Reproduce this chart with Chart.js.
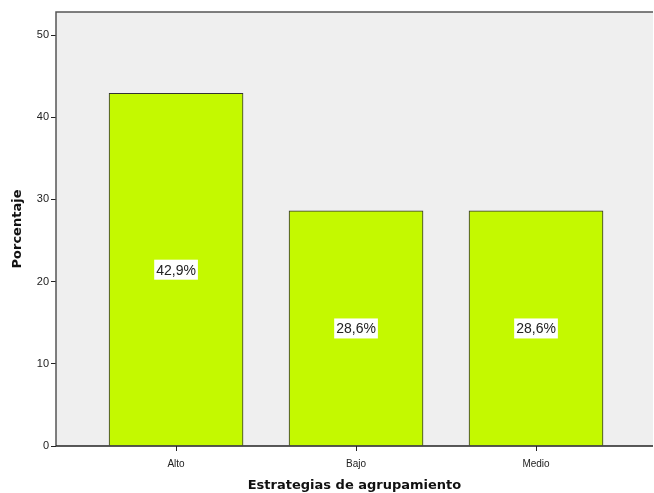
<!DOCTYPE html>
<html><head><meta charset="utf-8">
<script src="https://cdn.jsdelivr.net/npm/chart.js@4"></script>
<style>html,body{margin:0;padding:0;background:#fff}#w{width:654px;height:493px}</style>
</head><body><div id="w"><canvas id="c"></canvas></div>
<script>
const categories = ["Alto", "Bajo", "Medio"];
const percentages = [42.9, 28.6, 28.6];
const valueLabels = ["42,9%", "28,6%", "28,6%"];
const yTicks = [0, 10, 20, 30, 40, 50];

const bgPlugin = {
  id: 'bg',
  beforeDatasetsDraw(chart) {
    const {ctx, chartArea: a} = chart;
    ctx.save();
    ctx.fillStyle = '#efefef';
    ctx.fillRect(a.left, a.top, a.right - a.left, a.bottom - a.top);
    ctx.strokeStyle = '#555';
    ctx.lineWidth = 1.5;
    ctx.beginPath();
    ctx.moveTo(a.left, a.bottom); ctx.lineTo(a.left, a.top); ctx.lineTo(a.right, a.top);
    ctx.stroke();
    ctx.restore();
  },
  afterDatasetsDraw(chart) {
    const {ctx, chartArea: a} = chart;
    const meta = chart.getDatasetMeta(0);
    const xs = chart.scales.x;
    ctx.save();
    ctx.strokeStyle = '#222';
    ctx.lineWidth = 1.5;
    ctx.beginPath();
    ctx.moveTo(a.left, a.bottom); ctx.lineTo(a.right, a.bottom);
    ctx.stroke();
    ctx.lineWidth = 1;
    ctx.beginPath();
    categories.forEach((c, i) => {
      const px = Math.round(xs.getPixelForValue(i)) + 0.5;
      ctx.moveTo(px, a.bottom); ctx.lineTo(px, a.bottom + 5);
    });
    ctx.stroke();
    ctx.font = '14px "Liberation Sans", Arial, sans-serif';
    ctx.textAlign = 'center';
    ctx.textBaseline = 'middle';
    meta.data.forEach((el, i) => {
      const y = chart.scales.y.getPixelForValue(percentages[i] / 2);
      const t = valueLabels[i];
      const w = ctx.measureText(t).width + 4;
      ctx.fillStyle = '#fff';
      ctx.fillRect(el.x - w / 2, y - 10, w, 20);
      ctx.fillStyle = '#222';
      ctx.fillText(t, el.x, y + 1);
    });
    ctx.restore();
  }
};

new Chart(document.getElementById('c'), {
  type: 'bar',
  data: {
    datasets: [{
      data: categories.map((c, i) => ({x: i, y: percentages[i]})),
      backgroundColor: '#c4f900',
      borderColor: '#333',
      borderWidth: 1,
      barThickness: 134
    }]
  },
  options: {
    responsive: true,
    maintainAspectRatio: false,
    animation: false,
    layout: {padding: {top: 12, right: 1, left: 10, bottom: 0}},
    plugins: {legend: {display: false}, tooltip: {enabled: false}},
    scales: {
      x: {
        type: 'linear',
        offset: false,
        min: -0.667, max: 2.65,
        afterBuildTicks(s) { s.ticks = categories.map((c, i) => ({value: i})); },
        afterFit(s) { s.height = 47; },
        grid: {display: false},
        border: {display: false},
        ticks: {
          callback: (v) => categories[v],
          color: '#222', font: {size: 10, family: '"Liberation Sans", Arial, sans-serif'},
          maxRotation: 0, padding: 4
        },
        title: {display: true, text: 'Estrategias de agrupamiento', color: '#111',
          font: {size: 13, weight: 'bold', family: '"DejaVu Sans", Verdana, sans-serif'},
          padding: {top: 6, bottom: 0}}
      },
      y: {
        min: 0, max: 52.8,
        afterBuildTicks(s) { s.ticks = yTicks.map(v => ({value: v})); },
        afterFit(s) { s.width = 46; },
        grid: {display: true, drawOnChartArea: false, drawTicks: true, tickLength: 5, color: '#222'},
        border: {display: false},
        ticks: {color: '#222', font: {size: 11, family: '"Liberation Sans", Arial, sans-serif'}, padding: 2},
        title: {display: true, text: 'Porcentaje', color: '#111',
          font: {size: 13, weight: 'bold', family: '"DejaVu Sans", Verdana, sans-serif'},
          padding: {top: 0, bottom: 4}}
      }
    }
  },
  plugins: [bgPlugin]
});
</script></body></html>
